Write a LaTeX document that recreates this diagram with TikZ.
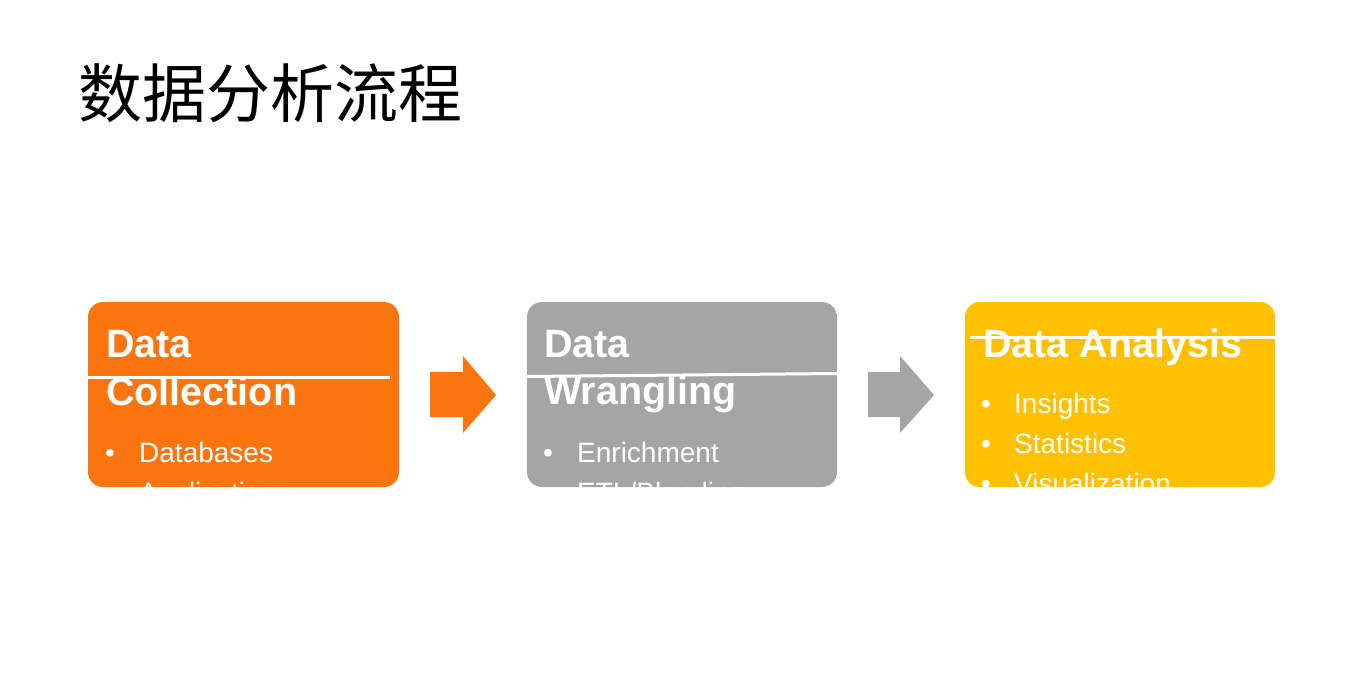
\documentclass[tikz,border=0pt]{standalone}
\usepackage{fontspec}
\setmainfont{Liberation Sans}
\newfontfamily\cjk{Noto Sans CJK SC}
\definecolor{corange}{HTML}{FA750E}
\definecolor{cgrey}{HTML}{A5A5A5}
\definecolor{cyellow}{HTML}{FFC000}
\tikzset{
  stagebox/.style={fill=#1, draw=none, rounded corners=15pt},
  headtxt/.style={anchor=base west, inner sep=0pt, text=white, font=\fontsize{39.5}{40}\selectfont\bfseries},
  itemtxt/.style={anchor=base west, inner sep=0pt, text=white, font=\fontsize{28}{30}\selectfont},
  sepline/.style={draw=white, line width=3pt},
  blockarrow/.style={fill=#1, draw=none}
}
\begin{document}
\begin{tikzpicture}[x=1pt,y=-1pt]
\useasboundingbox[fill=white] (0,0) rectangle (1365,693);
\node[anchor=base west, inner sep=0pt, font=\fontsize{64}{64}\selectfont\cjk] (title) at (78,117) {数据分析流程};

% box 1
\path[stagebox=corange] (88,302) rectangle (399,487);
\begin{scope}
\clip[rounded corners=15pt] (88,302) rectangle (399,487);
\node[headtxt] (h1a) at (106,357) {Data};
\node[headtxt] (h1b) at (106,405) {Collection};
\node[itemtxt] (b1a) at (105,462) {•};
\node[itemtxt] (i1a) at (139,462) {Databases};
\node[itemtxt] (b1b) at (105,502) {•};
\node[itemtxt] (i1b) at (139,502) {Applications};
\end{scope}
\draw[sepline] (88,377) -- (390,377);

% box 2
\path[stagebox=cgrey] (527,302) rectangle (837,487);
\begin{scope}
\clip[rounded corners=15pt] (527,302) rectangle (837,487);
\node[headtxt] (h2a) at (544,357) {Data};
\node[headtxt] (h2b) at (544,404) {Wrangling};
\node[itemtxt] (b2a) at (543,462) {•};
\node[itemtxt] (i2a) at (577,462) {Enrichment};
\node[itemtxt] (b2b) at (543,502) {•};
\node[itemtxt] (i2b) at (577,502) {ETL/Blending};
\end{scope}
\draw[sepline] (527,376.5) -- (837,373.5);

% box 3
\path[stagebox=cyellow] (965,302) rectangle (1275,487);
\begin{scope}
\clip[rounded corners=15pt] (965,302) rectangle (1275,487);
\node[headtxt] (h3a) at (983,357) {Data Analysis};
\node[itemtxt] (b3a) at (981,413) {•};
\node[itemtxt] (i3a) at (1014,413) {Insights};
\node[itemtxt] (b3b) at (981,453) {•};
\node[itemtxt] (i3b) at (1014,453) {Statistics};
\node[itemtxt] (b3c) at (981,493) {•};
\node[itemtxt] (i3c) at (1014,493) {Visualization};
\end{scope}
\draw[sepline] (970,337) -- (1275,337);

% block arrows
\path[blockarrow=corange] (430,372) -- (463,372) -- (463,356) -- (496,395) -- (463,433) -- (463,417) -- (430,417) -- cycle;
\path[blockarrow=cgrey] (868,372) -- (900,372) -- (900,356) -- (934,395) -- (900,433) -- (900,417) -- (868,417) -- cycle;
\end{tikzpicture}
\end{document}
